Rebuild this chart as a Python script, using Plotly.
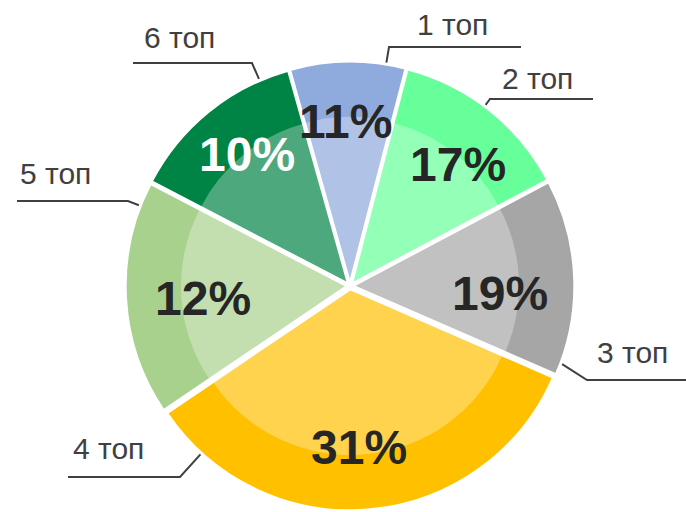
import math
import plotly.graph_objects as go

# slices, clockwise from just left of 12 o'clock
labels = ["1 топ", "2 топ", "3 топ", "4 топ", "5 топ", "6 топ"]
shares = [8.4, 13.2, 14.3, 34.0, 17.1, 13.0]          # slice sizes as drawn
pct_text = ["11%", "17%", "19%", "31%", "12%", "10%"]  # numbers printed on the slices
colors = ["#8FAADC", "#66FF99", "#A6A6A6", "#FFC000", "#A9D18E", "#008445"]
pct_colors = ["#262626", "#262626", "#262626", "#262626", "#262626", "#FFFFFF"]

W, H = 686, 512
CX, CY, R = 350, 286, 221
PULL = 0.015
INNER = 0.75
START = -15.7

# where the % text sits in each slice: (degrees off the mid angle, fraction of radius)
pct_place = [(-1.1, 0.73), (3.5, 0.72), (5.0, 0.665), (2.2, 0.715), (-1.7, 0.652), (1.0, 0.742)]

# label placement (pixels): elbow of leader, end of the horizontal rule, text centre
label_layout = {
    "1 топ": dict(elbow=(389, 47), end=521, text=(452, 24)),
    "2 топ": dict(elbow=(490, 99), end=593, text=(537, 78)),
    "3 топ": dict(elbow=(587, 380), end=686, text=(632, 352)),
    "4 топ": dict(elbow=(180, 477), end=68, text=(108, 448)),
    "5 топ": dict(elbow=(128, 201), end=17, text=(55, 173)),
    "6 топ": dict(elbow=(252, 63), end=133, text=(180, 37)),
}


def px(x, y):
    return x / W, 1 - y / H


def point(angle, dist, ox=CX, oy=CY):
    a = math.radians(angle)
    return ox + dist * math.sin(a), oy - dist * math.cos(a)


def domain(radius, pull):
    half = radius * (1 + pull)
    x0, y0 = px(CX - half, CY + half)
    x1, y1 = px(CX + half, CY - half)
    return dict(x=[x0, x1], y=[y0, y1])


fig = go.Figure()
fig.add_trace(go.Pie(
    labels=labels, values=shares, sort=False, direction="clockwise",
    rotation=START, pull=PULL, textinfo="none", hoverinfo="label+percent",
    marker=dict(colors=colors, line=dict(color="white", width=2)),
    domain=domain(R, PULL), showlegend=False,
))
# lighter inner disc
fig.add_trace(go.Pie(
    labels=labels, values=shares, sort=False, direction="clockwise",
    rotation=START, pull=PULL / INNER, textinfo="none", hoverinfo="skip",
    marker=dict(colors=["rgba(255,255,255,0.3)"] * len(labels), line=dict(width=0)),
    domain=domain(R * INNER, PULL / INNER), showlegend=False,
))

total = sum(shares)
d = R * PULL
shapes, annotations = [], []
a0 = START
for lab, val, txt, tcol, (nudge, rf) in zip(labels, shares, pct_text, pct_colors, pct_place):
    span = 360 * val / total
    a1 = a0 + span
    mid = (a0 + a1) / 2
    ox, oy = point(mid, d)

    # percentage inside the slice
    tx, ty = point(mid + nudge, rf * R, ox, oy)
    x, y = px(tx, ty)
    annotations.append(dict(x=x, y=y, xref="paper", yref="paper", text=f"<b>{txt}</b>",
                            xanchor="center", yanchor="middle", showarrow=False,
                            font=dict(size=48, color=tcol, family="Liberation Sans, Arial")))

    # leader line
    L = label_layout[lab]
    ex, ey = L["elbow"]
    ang = math.degrees(math.atan2(ex - ox, oy - ey))
    while ang < a0 - 180:
        ang += 360
    while ang > a0 + 180:
        ang -= 360
    ang = min(max(ang, a0 + 3), a1 - 3)
    sx, sy = point(ang, R + 2, ox, oy)
    p0, p1, p2 = px(sx, sy), px(ex, ey), px(L["end"], ey)
    shapes.append(dict(type="path", xref="paper", yref="paper",
                       path=f"M {p0[0]},{p0[1]} L {p1[0]},{p1[1]} L {p2[0]},{p2[1]}",
                       line=dict(color="#404040", width=2)))
    lx, ly = px(*L["text"])
    annotations.append(dict(x=lx, y=ly, xref="paper", yref="paper", text=lab,
                            xanchor="center", yanchor="middle", showarrow=False,
                            font=dict(size=30, color="#404040", family="Liberation Sans, Arial")))
    a0 = a1

fig.update_layout(
    width=W, height=H, margin=dict(l=0, r=0, t=0, b=0),
    paper_bgcolor="white", plot_bgcolor="white",
    shapes=shapes, annotations=annotations,
)

fig.write_html("out.html", config={"displayModeBar": False},
               post_script="document.body.style.margin = '0';")
